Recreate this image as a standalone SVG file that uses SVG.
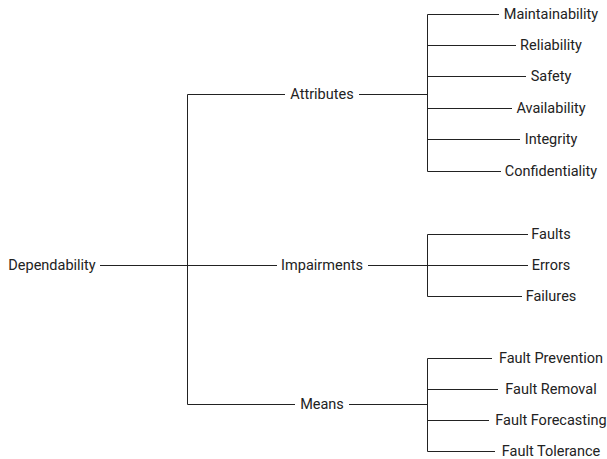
<svg xmlns="http://www.w3.org/2000/svg" width="607" height="459" viewBox="0 0 607 459">
<style>
text{font-family:Roboto,"Liberation Sans",sans-serif;font-size:14.5px;fill:#222;text-anchor:middle;dominant-baseline:central}
.c path{fill:none;stroke:#222;stroke-width:1}
</style>
<rect width="607" height="459" fill="#fff"/>
<g class="c" id="connectors">
<path d="M100,265.5H187.5M187.5,94.5V404.5M187.5,94.5H285M187.5,265.5H277M187.5,404.5H295"/>
<path d="M359,94.5H427.5M427.5,14.5V171.5M427.5,14.5H499M427.5,45.5H516M427.5,76.5H526M427.5,108.5H512M427.5,139.5H520M427.5,171.5H501"/>
<path d="M368,265.5H427.5M427.5,234.5V296.5M427.5,234.5H528M427.5,265.5H528M427.5,296.5H522"/>
<path d="M349,404.5H427.5M427.5,358.5V451.5M427.5,358.5H492M427.5,389.5H498M427.5,420.5H489M427.5,451.5H495"/>
</g>
<g id="dependability"><text x="52" y="265">Dependability</text></g>
<g id="attributes"><text x="322" y="94">Attributes</text></g>
<g id="impairments"><text x="322" y="265">Impairments</text></g>
<g id="means"><text x="322" y="404">Means</text></g>
<g id="maintainability"><text x="551" y="14">Maintainability</text></g>
<g id="reliability"><text x="551" y="45">Reliability</text></g>
<g id="safety"><text x="551" y="76">Safety</text></g>
<g id="availability"><text x="551" y="108">Availability</text></g>
<g id="integrity"><text x="551" y="139">Integrity</text></g>
<g id="confidentiality"><text x="551" y="171">Confidentiality</text></g>
<g id="faults"><text x="551" y="234">Faults</text></g>
<g id="errors"><text x="551" y="265">Errors</text></g>
<g id="failures"><text x="551" y="296">Failures</text></g>
<g id="fault-prevention"><text x="551" y="358">Fault Prevention</text></g>
<g id="fault-removal"><text x="551" y="389">Fault Removal</text></g>
<g id="fault-forecasting"><text x="551" y="420">Fault Forecasting</text></g>
<g id="fault-tolerance"><text x="551" y="451">Fault Tolerance</text></g>
</svg>
